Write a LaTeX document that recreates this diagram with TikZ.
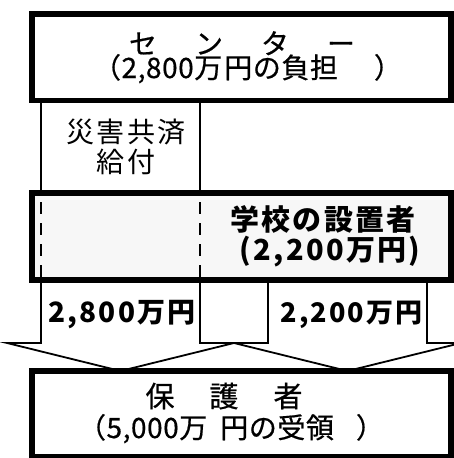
\documentclass[tikz,border=0pt]{standalone}
\usepackage{fontspec}
\setmainfont{Noto Sans CJK JP}
\newfontfamily\jp[LetterSpace=2,FakeBold=0.6]{Noto Sans CJK JP}
\newfontfamily\jpm[LetterSpace=8]{Noto Sans CJK JP}
\newcommand\setfs[1]{\fontsize{#1}{#1}\selectfont}
\definecolor{midfill}{RGB}{247,247,247}
\begin{document}
\begin{tikzpicture}[x=1pt,y=-1pt,
  thickbox/.style={line width=5.5pt},
  thinline/.style={line width=1.8pt},
  dashline/.style={line width=1.8pt,dash pattern=on 12pt off 9pt},
  lbl/.style={inner sep=0pt,anchor=center,text height=18pt,text depth=2pt}]
\useasboundingbox (0,0) rectangle (454,458);
% top box
\draw[thickbox] (32,14) rectangle (451,100.5);
\draw[thinline] (41,100.5) -- (41,193);
\draw[thinline] (200,100.5) -- (200,193);
% middle box
\draw[thickbox,fill=midfill] (32,193) rectangle (451,280);
\draw[dashline] (41,202) -- (41,277);
\draw[dashline] (200,202) -- (200,277);
% arrows
\coordinate (la1) at (41,280);
\coordinate (la2) at (200,280);
\coordinate (ra1) at (268,280);
\coordinate (ra2) at (427,280);
\draw[thinline,line join=miter] (la1) -- (41,343) -- (7,343) -- (120.5,371) -- (234,343) -- (200,343) -- (la2);
\draw[thinline,line join=miter] (ra1) -- (268,343) -- (234,343) -- (347.5,371) -- (461,343) -- (427,343) -- (ra2);
% bottom box
\draw[thickbox,fill=white] (32,371) rectangle (451,457);
% texts
\node[lbl] (t1) at (242,46) {\setfs{28}\jp セ\hspace{38pt}ン\hspace{38pt}タ\hspace{38pt}ー};
\node[lbl] (t2) at (247.5,70) {\setfs{28}\jp （2,800万\hspace{2pt}円の負担\hspace{36pt}）};
\node[lbl] (s1) at (126,134) {\setfs{28}\jpm 災害共済};
\node[lbl] (s2) at (126,164) {\setfs{28}\jpm 給付};
\node[lbl] (m1) at (323,222) {\setfs{29}\jpm\bfseries 学校の設置者};
\node[lbl] (m2) at (330,252) {\setfs{29}\jpm\bfseries (2,200万円)};
\node[lbl] (a1) at (122,314) {\setfs{28}\jpm\bfseries 2,800万円};
\node[lbl] (a2) at (351.5,314) {\setfs{27}\jpm\bfseries 2,200万円};
\node[lbl] (b1) at (224,399) {\setfs{29}\jp 保\hspace{35pt}護\hspace{35pt}者};
\node[lbl] (b2) at (231,430) {\setfs{28}\jp （5,000万\hspace{13pt}円の受領\hspace{22pt}）};
\end{tikzpicture}
\end{document}
